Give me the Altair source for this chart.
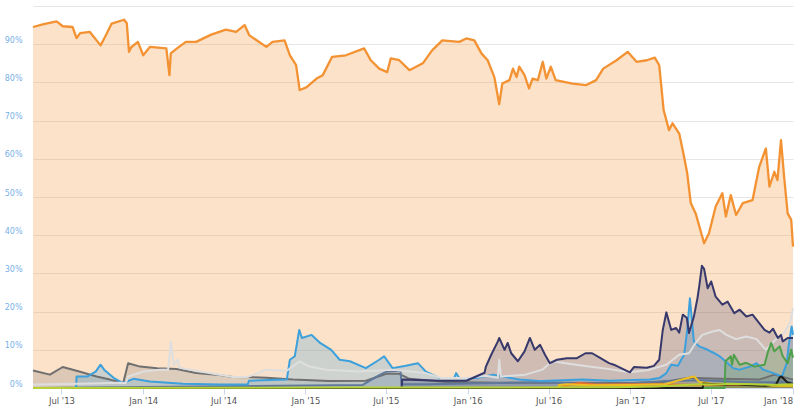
import altair as alt
import pandas as pd

# ---------------- data ----------------
btc_dates = ["2013-04-28","2013-05-20","2013-06-20","2013-07-04","2013-07-26","2013-08-04","2013-08-12","2013-09-03","2013-09-27","2013-10-07","2013-10-22","2013-11-19",
 "2013-11-25","2013-11-30","2013-12-05","2013-12-20","2014-01-01","2014-01-16","2014-02-22","2014-03-01","2014-03-04","2014-03-18","2014-04-07",
 "2014-04-30","2014-06-03","2014-07-06","2014-07-29","2014-08-17","2014-08-28","2014-10-05","2014-10-19","2014-11-15","2014-11-27",
 "2014-12-11","2014-12-19","2015-01-03","2015-01-26","2015-02-09","2015-03-02","2015-04-02","2015-05-13","2015-05-28","2015-06-16",
 "2015-07-04","2015-07-12","2015-07-31","2015-08-23","2015-09-22","2015-10-13","2015-11-05","2015-12-13","2015-12-29","2016-01-16",
 "2016-02-01","2016-02-15","2016-03-01","2016-03-12","2016-03-19","2016-04-04","2016-04-12","2016-04-20","2016-04-26","2016-05-08",
 "2016-05-18","2016-05-26","2016-06-07","2016-06-18","2016-06-26","2016-07-06","2016-07-17","2016-08-24","2016-09-24","2016-10-16",
 "2016-11-01","2016-12-01","2016-12-26","2017-01-15","2017-02-07","2017-02-25","2017-03-07","2017-03-17","2017-03-29","2017-04-06",
 "2017-04-21","2017-05-02","2017-05-09","2017-05-17","2017-05-28","2017-06-16","2017-06-27","2017-07-12","2017-07-27","2017-08-04",
 "2017-08-15","2017-08-27","2017-09-11","2017-10-03","2017-10-18","2017-11-02","2017-11-10","2017-11-21","2017-11-28","2017-12-06",
 "2017-12-13","2017-12-21","2017-12-29","2018-01-02"]
btc_vals = [94.5,95.2,96.0,94.7,94.5,91.6,92.9,93.2,89.7,91.9,95.4,96.4,
 95.5,88.0,89.2,90.6,87.1,89.3,88.9,81.9,87.6,88.9,90.6,
 90.6,92.5,93.8,93.2,95.0,92.3,89.3,90.6,91.0,87.1,
 84.5,78.0,78.7,81.0,81.9,86.7,87.1,88.9,85.8,83.6,
 82.7,86.3,85.8,83.2,85.0,88.4,91.0,90.6,91.5,91.0,
 87.6,85.8,81.4,74.3,79.7,80.6,83.6,81.4,84.1,81.9,
 78.4,81.0,80.6,85.4,81.0,84.1,80.6,79.7,79.3,80.6,
 83.6,85.8,88.0,85.4,85.8,86.5,84.5,72.7,67.5,69.3,
 66.6,60.5,56.2,48.4,45.7,37.9,40.5,47.5,51.0,44.9,
 50.5,45.3,48.4,49.2,57.9,62.7,52.7,56.6,54.4,64.9,
 55.3,45.7,44.0,37.0]

ltc_dates = ["2013-04-28","2013-06-05","2013-07-04","2013-08-10","2013-09-18","2013-10-18","2013-11-17","2013-11-28","2013-12-25","2014-02-01",
 "2014-03-17","2014-04-30","2014-06-14","2014-07-22","2014-09-06","2014-10-05","2014-12-04","2015-02-23","2015-05-17","2015-07-02",
 "2015-07-31","2015-08-23","2015-11-15","2016-03-12","2016-07-25","2016-12-31","2017-03-17","2017-05-13","2017-07-21","2017-10-18",
 "2017-11-21","2018-01-02"]
ltc_vals = [4.6,3.5,5.5,4.3,3.0,2.2,1.3,6.5,5.6,5.2,
 5.0,3.9,3.5,2.9,2.8,2.7,2.2,1.8,1.9,3.7,
 3.7,2.4,1.6,1.4,1.4,1.3,1.6,2.7,2.4,2.2,
 3.5,2.2]

oth_dates = ["2013-04-28","2013-08-10","2013-11-10","2013-11-23","2013-11-28","2014-01-01","2014-02-08","2014-02-26","2014-03-04","2014-03-11",
 "2014-03-20","2014-03-24","2014-05-09","2014-07-22","2014-08-25","2014-10-05","2014-11-20","2014-12-19","2015-01-10","2015-02-17",
 "2015-05-02","2015-07-16","2015-09-29","2015-11-02","2015-12-29","2016-02-11","2016-03-09","2016-03-12","2016-03-16","2016-05-10",
 "2016-06-17","2016-07-09","2016-08-31","2016-10-31","2016-12-31","2017-02-14","2017-03-23","2017-04-21","2017-05-13","2017-05-28",
 "2017-06-12","2017-07-05","2017-07-21","2017-08-05","2017-08-27","2017-09-19","2017-10-12","2017-11-02","2017-11-25","2017-12-13",
 "2017-12-27","2018-01-02"]
oth_vals = [0.9,1.1,1.4,1.3,3.0,4.3,4.8,4.8,12.2,6.1,
 7.4,5.3,4.3,2.9,2.9,4.8,4.5,7.0,5.6,4.8,
 4.3,4.8,3.9,2.6,2.6,3.2,2.7,7.4,3.0,3.5,
 4.8,7.0,6.1,5.2,4.1,4.8,6.1,8.7,9.1,11.8,
 13.9,14.8,15.2,13.9,12.8,13.5,12.8,10.0,12.8,14.4,
 17.4,20.9]

xrp_dates = ["2013-04-28","2013-08-03","2013-08-04","2013-08-28","2013-09-16","2013-09-27","2013-10-05","2013-10-27","2013-11-17","2013-12-10",
 "2014-01-16","2014-03-31","2014-06-22","2014-08-24","2014-08-27","2014-11-20","2014-11-27","2014-12-08","2014-12-18","2014-12-24",
 "2015-01-15","2015-02-03","2015-02-28","2015-03-19","2015-04-11","2015-05-17","2015-06-16","2015-06-27","2015-07-16","2015-08-15",
 "2015-09-11","2015-09-29","2015-10-30","2015-12-02","2015-12-06","2015-12-13","2016-01-20","2016-02-27","2016-04-26","2016-06-17",
 "2016-09-15","2016-11-16","2017-02-14","2017-03-07","2017-03-23","2017-04-03","2017-04-18","2017-05-02","2017-05-09","2017-05-15",
 "2017-05-20","2017-05-24","2017-06-05","2017-06-24","2017-07-09","2017-07-21","2017-08-08","2017-08-20","2017-09-04","2017-09-27",
 "2017-10-12","2017-10-27","2017-11-19","2017-12-08","2017-12-19","2017-12-23","2017-12-30","2018-01-02"]
xrp_vals = [0,0,3.0,3.0,4.3,6.1,4.8,2.6,1.3,2.4,
 1.7,1.1,0.9,0.9,1.9,2.2,7.4,8.3,15.2,13.1,
 13.9,11.8,10.0,7.4,7.0,5.2,7.4,8.3,5.2,5.8,
 6.5,4.3,2.6,2.7,3.9,2.6,2.6,3.5,2.2,1.8,
 2.2,1.9,2.2,2.6,3.9,6.1,5.8,8.7,15.2,23.5,
 17.3,12.2,10.9,10.0,9.1,8.3,6.5,5.2,4.8,5.6,
 6.5,4.8,3.9,3.0,6.5,10.9,16.1,13.9]

dash_dates = ["2013-04-28","2015-05-10","2015-06-10","2015-07-02","2015-08-03","2015-08-05","2015-10-01","2016-01-01","2016-06-01","2016-12-01",
 "2017-03-15","2017-06-15","2017-09-15","2018-01-02"]
dash_vals = [0,0.8,3.0,4.3,4.5,1.0,1.0,1.2,1.5,1.0,
 1.8,2.0,1.5,1.5]

eth_dates = ["2013-04-28","2015-08-05","2015-08-07","2015-10-30","2015-12-29","2016-01-20","2016-02-08","2016-02-11","2016-02-23","2016-03-09",
 "2016-03-12","2016-03-24","2016-03-31","2016-04-08","2016-04-23","2016-05-08","2016-05-20","2016-05-31","2016-06-12","2016-06-23",
 "2016-07-04","2016-07-20","2016-08-11","2016-09-03","2016-09-22","2016-10-07","2016-10-26","2016-11-14","2016-11-25","2016-12-31",
 "2017-01-09","2017-02-07","2017-02-23","2017-03-07","2017-03-15","2017-03-23","2017-04-03","2017-04-14","2017-04-21","2017-04-29",
 "2017-05-08","2017-05-13","2017-05-24","2017-06-01","2017-06-05","2017-06-11","2017-06-16","2017-06-24","2017-07-02","2017-07-12",
 "2017-07-27","2017-08-08","2017-08-23","2017-09-04","2017-09-19","2017-10-03","2017-10-18","2017-10-30","2017-11-10","2017-11-18",
 "2017-11-29","2017-12-06","2017-12-10","2017-12-21","2018-01-02"]
eth_vals = [0,0,2.2,1.9,1.9,3.0,4.0,5.6,8.7,12.2,
 13.1,10.0,11.8,9.1,7.0,9.6,13.1,10.0,11.3,8.7,
 6.5,7.4,7.8,7.8,9.1,9.1,7.8,6.5,6.1,4.1,
 5.5,5.3,5.8,7.4,15.2,19.8,15.2,15.7,14.5,19.2,
 18.4,14.4,18.7,23.5,26.6,32.0,31.2,26.1,27.9,23.9,
 21.8,22.6,19.6,20.5,18.7,19.2,17.0,15.2,14.5,15.5,
 13.1,13.9,12.2,13.1,13.1]

xmr_dates = ["2013-04-28","2016-07-31","2016-08-01","2016-08-20","2016-09-10","2016-10-15","2017-01-01","2017-03-15","2017-06-01","2017-09-01",
 "2017-12-01","2018-01-02"]
xmr_vals = [0,0,0.3,1.0,1.3,0.9,1.0,1.0,0.8,0.8,
 0.7,0.7]

etc_dates = ["2013-04-28","2016-07-23","2016-07-24","2016-08-10","2016-10-01","2017-01-01","2017-03-20","2017-04-20","2017-05-10","2017-05-25",
 "2017-06-05","2017-07-01","2017-09-01","2017-12-01","2018-01-02"]
etc_vals = [0,0,0.8,1.0,0.7,0.8,1.0,2.0,2.6,3.0,
 1.6,1.2,1.0,0.6,0.6]

bch_dates = ["2013-04-28","2017-08-01","2017-08-03","2017-08-15","2017-08-18","2017-08-22","2017-09-04","2017-09-19","2017-10-07","2017-10-30",
 "2017-11-07","2017-11-14","2017-11-21","2017-12-03","2017-12-10","2017-12-21","2017-12-29","2018-01-02"]
bch_vals = [0,0,7.0,8.3,6.1,8.7,6.1,6.6,5.6,6.1,
 9.6,11.8,9.6,10.9,8.3,6.5,10.0,7.9]

iota_dates = ["2013-04-28","2017-06-13","2017-06-14","2017-07-15","2017-08-20","2017-09-20","2017-11-01","2017-11-25","2017-12-03","2017-12-07",
 "2017-12-20","2018-01-02"]
iota_vals = [0,0,1.2,0.9,1.0,0.8,0.6,0.9,2.8,3.0,
 1.5,1.0]

nem_dates = ["2013-04-28","2015-04-01","2016-01-01","2016-12-01","2017-03-01","2017-05-01","2017-06-15","2017-07-15","2017-08-15","2017-10-01",
 "2017-11-15","2017-12-15","2018-01-02"]
nem_vals = [0.0,0.1,0.1,0.2,0.4,0.8,1.0,0.9,1.1,1.0,
 0.8,0.9,1.0]

x_ticks = ["2013-07-01","2014-01-01","2014-07-01","2015-01-01","2015-07-01","2016-01-01","2016-07-01","2017-01-01","2017-07-01","2018-01-01"]
y_ticks = [0,10,20,30,40,50,60,70,80,90,100]

series = [
    ("Bitcoin", btc_dates, btc_vals, "#f39233", 0.27),
    ("Litecoin", ltc_dates, ltc_vals, "#6f6f6f", 0.22),
    ("Dash", dash_dates, dash_vals, "#60789a", 0.22),
    ("Ripple", xrp_dates, xrp_vals, "#3ca0dc", 0.25),
    ("Others", oth_dates, oth_vals, "#dedede", 0.2),
    ("Ethereum", eth_dates, eth_vals, "#37386b", 0.22),
    ("Monero", xmr_dates, xmr_vals, "#e8702a", 0.2),
    ("Ethereum Classic", etc_dates, etc_vals, "#f0c020", 0.2),
    ("Bitcoin Cash", bch_dates, bch_vals, "#4fa04a", 0.22),
    ("IOTA", iota_dates, iota_vals, "#1e1e1e", 0.2),
    ("NEM", nem_dates, nem_vals, "#b6d134", 0.2),
]

x_scale = alt.Scale(type="utc", domain=[alt.DateTime(year=2013, month=4, date=28, utc=True),
                                        alt.DateTime(year=2018, month=1, date=2, utc=True)])
y_scale = alt.Scale(domain=[0, 100], nice=False)

x_axis = alt.Axis(
    values=[alt.DateTime(year=int(d[:4]), month=int(d[5:7]), date=int(d[8:]), utc=True) for d in x_ticks],
    labelExpr="utcFormat(datum.value, \"%b '%y\")", title=None, grid=False,
    domain=True, domainColor="#ccd6eb", ticks=True, tickColor="#ccd6eb", tickSize=6,
    labelFont="DejaVu Sans", labelFontSize=8.5, labelColor="#555555", labelPadding=2,
    labelFlush=3, labelOverlap=False,
)
y_axis = alt.Axis(
    values=y_ticks, title=None, grid=True, gridColor="#e6e6e6", gridWidth=1,
    domain=False, ticks=False, labelFont="DejaVu Sans", labelFontSize=8, labelColor="#79b1e8",
    labelPadding=11, labelOffset=-4, labelExpr="datum.value == 100 ? '' : datum.value + '%'",
)

x_enc = alt.X("date:T", scale=x_scale, axis=x_axis)
y_enc = alt.Y("value:Q", scale=y_scale, axis=y_axis, stack=None)

areas = []
lines = []
for name, ds, vs, col, op in series:
    df = pd.DataFrame({"date": ds, "value": vs})
    base = alt.Chart(df)
    areas.append(base.mark_area(color=col, fillOpacity=op, interpolate="linear").encode(x=x_enc, y=y_enc))
    lines.append(base.mark_line(color=col, strokeWidth=2 if name != "Bitcoin" else 2.3,
                                strokeJoin="round", interpolate="linear").encode(x=x_enc, y=y_enc))

chart = alt.layer(*areas, *lines).properties(
    width=760, height=382,
    autosize=alt.AutoSizeParams(type="none"),
    padding={"left": 33, "top": 6, "right": 7, "bottom": 26},
    background="white",
).configure_view(stroke=None)

chart.save("out.html", embed_options={"renderer": "svg", "actions": False})
